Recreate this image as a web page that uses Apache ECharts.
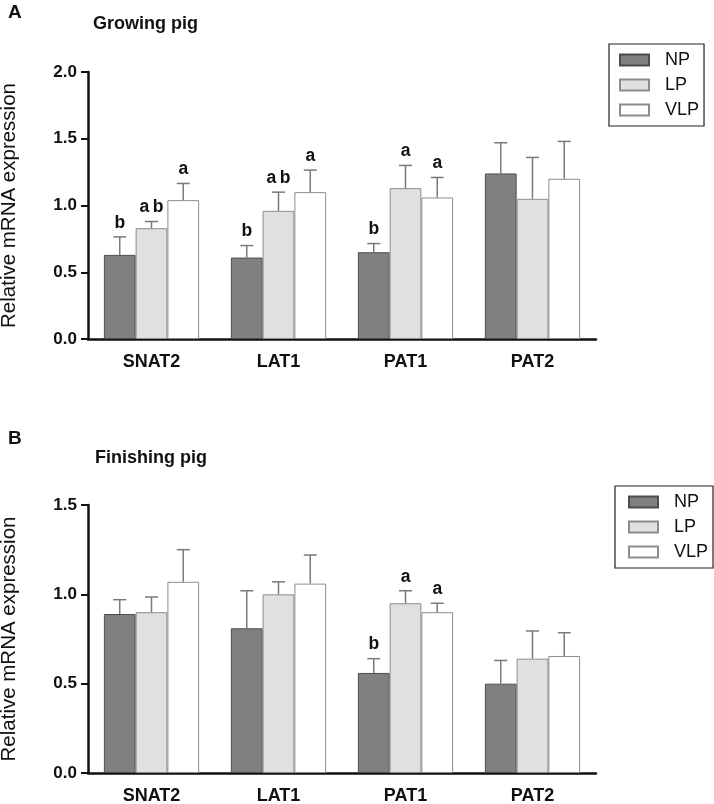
<!DOCTYPE html>
<html>
<head>
<meta charset="utf-8">
<script src="https://cdn.jsdelivr.net/npm/echarts@6/dist/echarts.min.js"></script>
<style>
html,body{margin:0;padding:0;background:#fff;}
#chart{width:714px;height:804px;}
</style>
</head>
<body>
<div id="chart"></div>
<script>
// ---- data ----
var categories = ['SNAT2', 'LAT1', 'PAT1', 'PAT2'];
var groupNames = ['NP', 'LP', 'VLP'];

// Panel A: growing pig (means and SEM)
var growNP = [0.63, 0.61, 0.65, 1.24];
var growLP = [0.83, 0.96, 1.13, 1.05];
var growVLP = [1.04, 1.10, 1.06, 1.20];
var growNPsem = [0.135, 0.09, 0.065, 0.23];
var growLPsem = [0.05, 0.14, 0.17, 0.31];
var growVLPsem = [0.125, 0.165, 0.15, 0.28];
var growNPlet = ['b', 'b', 'b', ''];
var growLPlet = ['a\u2009b', 'a\u2009b', 'a', ''];
var growVLPlet = ['a', 'a', 'a', ''];

// Panel B: finishing pig
var finNP = [0.89, 0.81, 0.56, 0.50];
var finLP = [0.90, 1.00, 0.95, 0.64];
var finVLP = [1.07, 1.06, 0.90, 0.655];
var finNPsem = [0.08, 0.21, 0.08, 0.13];
var finLPsem = [0.085, 0.07, 0.07, 0.155];
var finVLPsem = [0.18, 0.16, 0.05, 0.13];
var finNPlet = ['', '', 'b', ''];
var finLPlet = ['', '', 'a', ''];
var finVLPlet = ['', '', 'a', ''];

var yTicksA = {min: 0, max: 2.0, interval: 0.5};
var yTicksB = {min: 0, max: 1.5, interval: 0.5};

// ---- styles ----
var FONT = '"Liberation Sans", Arial, Helvetica, sans-serif';
var fills = ['#808080', '#e0e0e0', '#ffffff'];
var borders = ['#4d4d4d', '#8c8c8c', '#8c8c8c'];

function barSeries(name, k, data, gi) {
  return {
    type: 'bar', name: name, xAxisIndex: gi, yAxisIndex: gi,
    data: data, barGap: '0%', barCategoryGap: '25%',
    itemStyle: {color: fills[k], borderColor: borders[k], borderWidth: 1},
    emphasis: {disabled: true}, silent: true, z: 2
  };
}

function errSeries(gi, means, sems, letters) {
  var data = [];
  for (var k = 0; k < 3; k++) {
    for (var i = 0; i < categories.length; i++) {
      data.push([i, k, means[k][i], means[k][i] + sems[k][i]]);
    }
  }
  return {
    type: 'custom', xAxisIndex: gi, yAxisIndex: gi, silent: true, z: 3,
    data: data,
    renderItem: function (params, api) {
      var ci = api.value(0), k = api.value(1), m = api.value(2), top = api.value(3);
      var band = api.size([1, 0])[0];
      var p0 = api.coord([ci, m]);
      var p1 = api.coord([ci, top]);
      var x = p0[0] + (k - 1) * band * 0.25;
      var children = [
        {type: 'line', shape: {x1: x, y1: p0[1], x2: x, y2: p1[1]},
         style: {stroke: '#7a7a7a', lineWidth: 1.5}},
        {type: 'line', shape: {x1: x - 6.5, y1: p1[1], x2: x + 6.5, y2: p1[1]},
         style: {stroke: '#7a7a7a', lineWidth: 1.5}}
      ];
      var L = letters[k][ci];
      if (L) {
        children.push({type: 'text', style: {
          text: L, x: x, y: p1[1] - 5, align: 'center', verticalAlign: 'bottom',
          font: 'bold 17.5px ' + FONT, fill: '#111'}});
      }
      return {type: 'group', children: children};
    }
  };
}

function yAxis(gi, t) {
  return {
    type: 'value', gridIndex: gi, min: t.min, max: t.max, interval: t.interval,
    name: 'Relative mRNA expression', nameLocation: 'middle', nameGap: 68,
    nameTextStyle: {fontFamily: FONT, fontSize: 20.5, color: '#111'},
    axisLine: {show: true, lineStyle: {color: '#111', width: 2.5}},
    axisTick: {show: true, length: 7, lineStyle: {color: '#111', width: 2}},
    axisLabel: {margin: 11, fontFamily: FONT, fontSize: 17, fontWeight: 'bold', color: '#111',
      formatter: function (v) { return v.toFixed(1); }},
    splitLine: {show: false}
  };
}

function xAxis(gi) {
  return {
    type: 'category', gridIndex: gi, data: categories,
    axisLine: {show: true, lineStyle: {color: '#111', width: 2.5}},
    axisTick: {show: false},
    axisLabel: {margin: 14, fontFamily: FONT, fontSize: 18, fontWeight: 'bold', color: '#111'}
  };
}

function legend(left, top, pad) {
  return {
    data: groupNames, orient: 'vertical', left: left, top: top,
    itemWidth: 29, itemHeight: 11, itemGap: 7, icon: 'rect',
    borderColor: '#222', borderWidth: 1.2, padding: pad,
    textStyle: {fontFamily: FONT, fontSize: 18, color: '#111', lineHeight: 18, padding: [0, 0, 0, 11]},
    selectedMode: false
  };
}

var option = {
  backgroundColor: '#fff',
  animation: false,
  title: [
    {text: 'A', left: 8, top: 3, padding: 0, textStyle: {fontFamily: FONT, fontSize: 19, fontWeight: 'bold', color: '#111'}},
    {text: 'Growing pig', left: 93, top: 15, padding: 0, textStyle: {fontFamily: FONT, fontSize: 18, fontWeight: 'bold', color: '#111'}},
    {text: 'B', left: 8, top: 429, padding: 0, textStyle: {fontFamily: FONT, fontSize: 19, fontWeight: 'bold', color: '#111'}},
    {text: 'Finishing pig', left: 95, top: 449, padding: 0, textStyle: {fontFamily: FONT, fontSize: 18, fontWeight: 'bold', color: '#111'}}
  ],
  legend: [legend(609, 44, [7, 5, 7, 10]), legend(615, 486, [7, 5, 7, 13])],
  grid: [
    {left: 88, right: 118, top: 72, bottom: 804 - 339, containLabel: false, outerBoundsMode: 'none'},
    {left: 88, right: 118, top: 505, bottom: 804 - 773, containLabel: false, outerBoundsMode: 'none'}
  ],
  xAxis: [xAxis(0), xAxis(1)],
  yAxis: [yAxis(0, yTicksA), yAxis(1, yTicksB)],
  series: [
    barSeries('NP', 0, growNP, 0),
    barSeries('LP', 1, growLP, 0),
    barSeries('VLP', 2, growVLP, 0),
    errSeries(0, [growNP, growLP, growVLP], [growNPsem, growLPsem, growVLPsem], [growNPlet, growLPlet, growVLPlet]),
    barSeries('NP', 0, finNP, 1),
    barSeries('LP', 1, finLP, 1),
    barSeries('VLP', 2, finVLP, 1),
    errSeries(1, [finNP, finLP, finVLP], [finNPsem, finLPsem, finVLPsem], [finNPlet, finLPlet, finVLPlet])
  ]
};

var chart = echarts.init(document.getElementById('chart'), null, {renderer: 'canvas'});
chart.setOption(option);
</script>
</body>
</html>
